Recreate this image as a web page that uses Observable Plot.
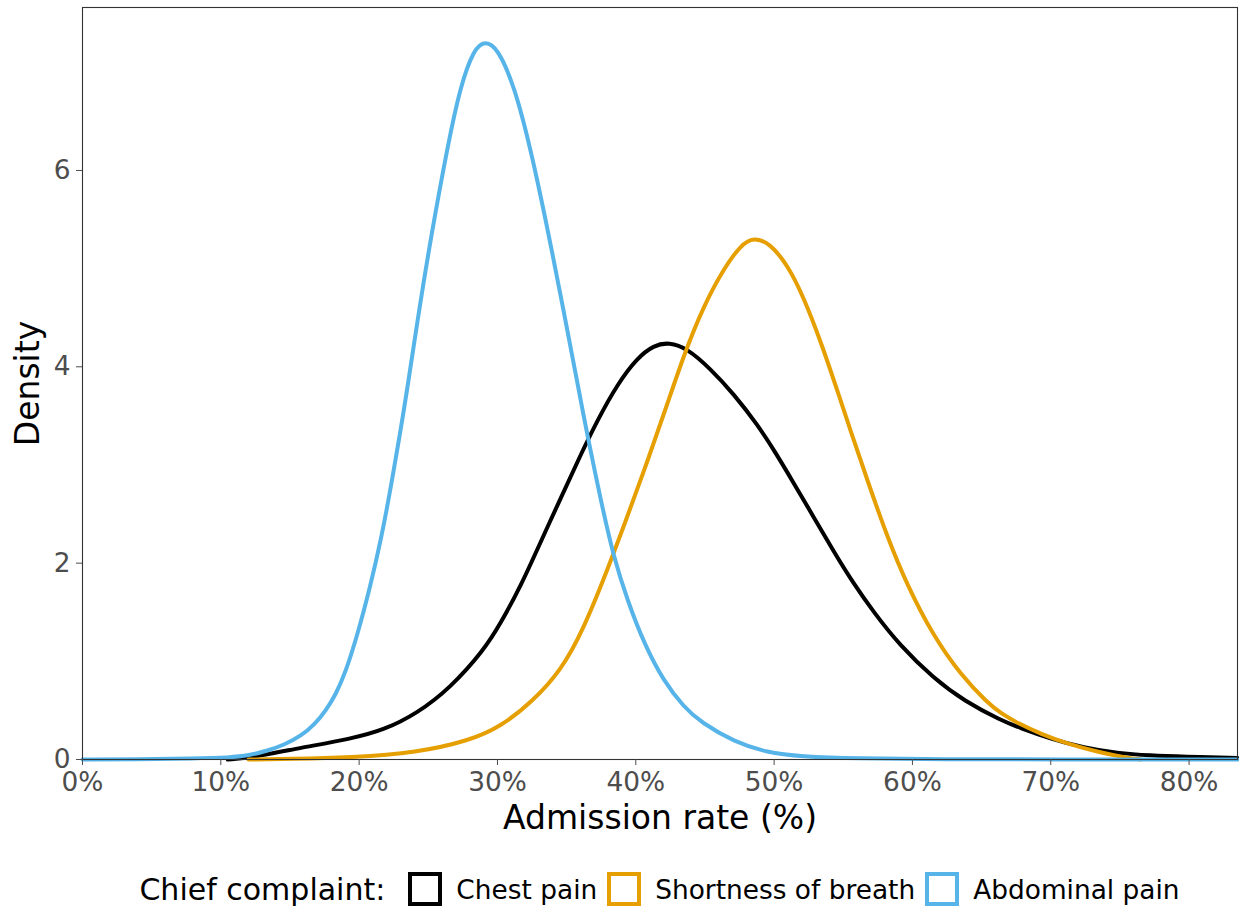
<!DOCTYPE html>
<html>
<head>
<meta charset="utf-8">
<script src="https://cdn.jsdelivr.net/npm/d3@7"></script>
<script src="https://cdn.jsdelivr.net/npm/@observablehq/plot@0.6"></script>
<style>
  body { margin: 0; background: #ffffff; font-family: "DejaVu Sans", sans-serif; }
  #legend { display: flex; align-items: center; justify-content: center; margin-left: 82px; width: 1155px; margin-top: 22px; height: 34px; color: #000; }
  #legend .title { font-size: 30px; margin-right: 23px; }
  #legend .key { width: 26px; height: 26px; border: 4px solid; box-sizing: content-box; margin-right: 14px; }
  #legend .lab { font-size: 26.4px; margin-right: 10px; }
  #legend .lab:last-child { margin-right: 0; }
</style>
</head>
<body>
<div id="chart"></div>
<div id="legend"></div>
<script>
// ---- Data ----
const series = ["Chest pain", "Shortness of breath", "Abdominal pain"];
const seriesColors = ["#000000", "#E69F00", "#56B4E9"];

const chestX = [10.5, 12.2, 15.8, 19.4, 21.8, 24.2, 26.6, 29.0, 30.2, 31.7, 33.1, 34.6, 36.0, 37.2, 38.7, 40.1, 41.3, 42.4, 43.7, 45.4, 47.1, 48.8, 50.0, 51.4, 52.9, 54.3, 55.7, 57.2, 59.1, 61.5, 63.8, 66.4, 67.8, 70.0, 72.4, 74.8, 77.2, 79.6, 83.5];
const chestY = [0, 0.02, 0.12, 0.21, 0.30, 0.47, 0.73, 1.11, 1.38, 1.77, 2.21, 2.67, 3.10, 3.45, 3.83, 4.09, 4.22, 4.25, 4.19, 3.98, 3.72, 3.41, 3.15, 2.82, 2.46, 2.12, 1.80, 1.50, 1.16, 0.83, 0.59, 0.40, 0.32, 0.21, 0.12, 0.065, 0.04, 0.028, 0.015];

const breathX = [12, 15, 19.4, 24.2, 27.9, 30.2, 32.6, 34.6, 36.2, 38.0, 39.4, 40.9, 42.3, 43.5, 44.9, 46.4, 47.6, 48.5, 49.7, 51.0, 52.1, 53.4, 54.8, 55.5, 56.8, 58.2, 59.6, 61.5, 63.5, 65.4, 66.4, 67.6, 69.3, 71.2, 73.6, 75.0, 76.5];
const breathY = [0, 0.005, 0.02, 0.07, 0.19, 0.33, 0.60, 0.91, 1.32, 1.95, 2.48, 3.06, 3.63, 4.13, 4.62, 5.01, 5.24, 5.32, 5.26, 5.03, 4.72, 4.25, 3.66, 3.36, 2.82, 2.26, 1.78, 1.26, 0.86, 0.58, 0.47, 0.37, 0.26, 0.16, 0.07, 0.03, 0];

const abdX = [0, 4, 8, 10.7, 12.0, 13.4, 14.6, 15.8, 16.8, 17.6, 18.3, 19.0, 19.9, 20.8, 21.6, 22.3, 23.0, 23.4, 24.3, 25.2, 26.4, 27.3, 28.3, 29.1, 30.0, 31.2, 32.4, 33.6, 34.8, 35.8, 36.5, 37.5, 38.4, 39.4, 40.6, 42.0, 43.5, 44.7, 47.1, 49.5, 51.9, 56, 62, 70, 83.5];
const abdY = [0, 0.003, 0.01, 0.02, 0.04, 0.09, 0.15, 0.24, 0.36, 0.50, 0.66, 0.88, 1.28, 1.76, 2.25, 2.78, 3.36, 3.70, 4.55, 5.33, 6.25, 6.85, 7.24, 7.32, 7.25, 6.87, 6.22, 5.42, 4.56, 3.82, 3.30, 2.62, 2.06, 1.62, 1.18, 0.80, 0.53, 0.38, 0.18, 0.07, 0.03, 0.01, 0.003, 0, 0];

const xTicks = [0, 10, 20, 30, 40, 50, 60, 70, 80];
const yTicks = [0, 2, 4, 6];
const xTitle = "Admission rate (%)";
const yTitle = "Density";
const legendTitle = "Chief complaint:";

// ---- Build table ----
const rows = [];
chestX.forEach((x, i) => rows.push({x, y: chestY[i], s: series[0]}));
breathX.forEach((x, i) => rows.push({x, y: breathY[i], s: series[1]}));
abdX.forEach((x, i) => rows.push({x, y: abdY[i], s: series[2]}));

const chart = Plot.plot({
  width: 1239,
  height: 850,
  marginLeft: 82,
  marginRight: 2,
  marginTop: 7,
  marginBottom: 91,
  style: {fontFamily: "DejaVu Sans", background: "#ffffff"},
  x: {domain: [0, 83.5]},
  y: {domain: [0, 7.66]},
  color: {domain: series, range: seriesColors},
  marks: [
    Plot.line(rows, {x: "x", y: "y", z: "s", stroke: "s", strokeWidth: 4, curve: "basis"}),
    Plot.frame({stroke: "#333333", strokeWidth: 1.1}),
    Plot.axisX({ticks: xTicks, tickFormat: d => d + "%", tickSize: 6, tickPadding: 7, fontSize: 26.4, color: "#4d4d4d", label: null}),
    Plot.axisY({ticks: yTicks, tickSize: 6, tickPadding: 6, fontSize: 26.4, color: "#4d4d4d", label: null}),
    Plot.text([xTitle], {frameAnchor: "bottom", dy: 59, lineAnchor: "middle", textAnchor: "middle", fontSize: 33, fill: "#000000"}),
    Plot.text([yTitle], {frameAnchor: "left", dx: -54, rotate: -90, lineAnchor: "middle", textAnchor: "middle", fontSize: 33, fill: "#000000"})
  ]
});
document.getElementById("chart").appendChild(chart);

// ---- Legend ----
const legend = document.getElementById("legend");
const t = document.createElement("span");
t.className = "title";
t.textContent = legendTitle;
legend.appendChild(t);
series.forEach((s, i) => {
  const k = document.createElement("span");
  k.className = "key";
  k.style.borderColor = seriesColors[i];
  legend.appendChild(k);
  const l = document.createElement("span");
  l.className = "lab";
  l.textContent = s;
  legend.appendChild(l);
});
</script>
</body>
</html>
